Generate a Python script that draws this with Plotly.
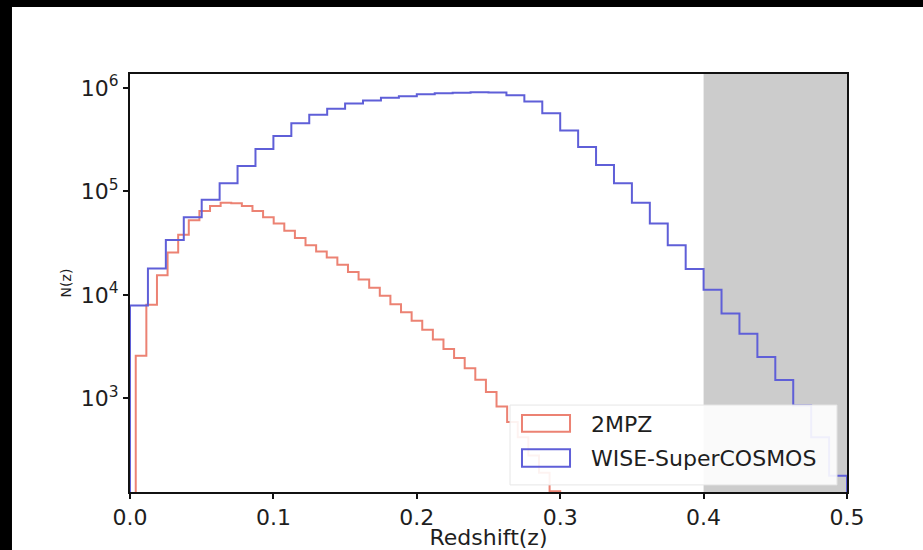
import numpy as np
import plotly.graph_objects as go

# ---------------- data ----------------
# WISE-SuperCOSMOS: 40 bins between z = 0.0 and 0.5
wise_z_range = (0.0, 0.5)
wise_counts = [7900, 18000, 33900, 56200, 83200, 120000, 176000, 257000, 343000, 457000,
               550000, 631000, 708000, 759000, 805000, 832000, 871000, 891000, 902000, 912000,
               905000, 851000, 741000, 569000, 389000, 269000, 180000, 120000, 77600, 49000,
               30200, 17800, 11200, 6600, 4200, 2500, 1500, 850, 420, 178]

# 2MPZ: 40 bins between z = 0.004 and 0.300
mpz_z_range = (0.004, 0.300)
mpz_counts = [2570, 8000, 15500, 25700, 38000, 52500, 64600, 72400, 77600, 77000,
              72400, 64600, 56200, 49000, 41700, 35500, 30200, 26300, 22900, 19500,
              16600, 14100, 11700, 9800, 8100, 6800, 5600, 4600, 3700, 3000,
              2450, 1950, 1510, 1150, 830, 590, 420, 280, 190, 126]

series_names = ["2MPZ", "WISE-SuperCOSMOS"]
x_ticks = [0.0, 0.1, 0.2, 0.3, 0.4, 0.5]
y_ticks = [1e3, 1e4, 1e5, 1e6]
y_tick_labels = ["10<sup>3</sup>", "10<sup>4</sup>", "10<sup>5</sup>", "10<sup>6</sup>"]
masked_range = (0.4, 0.5)

RED = "#ec8273"
BLUE = "#5f5fd8"
FONT = "DejaVu Sans"
TXT = "#1e1e1e"


def step_xy(zr, counts, floor=1.0):
    edges = np.linspace(zr[0], zr[1], len(counts) + 1)
    xs = [edges[0]] + list(edges[:-1]) + [edges[-1], edges[-1]]
    ys = [floor] + list(counts) + [counts[-1], floor]
    return xs, ys


fig = go.Figure()

# masked region
fig.add_shape(type="rect", xref="x", yref="paper", x0=masked_range[0], x1=masked_range[1],
              y0=0, y1=1, fillcolor="#cccccc", line=dict(width=0), layer="below")

for zr, counts, name, col in [(mpz_z_range, mpz_counts, series_names[0], RED),
                              (wise_z_range, wise_counts, series_names[1], BLUE)]:
    xs, ys = step_xy(zr, counts)
    fig.add_trace(go.Scatter(x=xs, y=ys, mode="lines", line=dict(color=col, width=2, shape="hv"),
                             name=name, showlegend=False, hoverinfo="skip"))

# legend (matplotlib-style box with outlined patches)
fig.add_shape(type="rect", xref="paper", yref="paper", x0=0.530, x1=0.986, y0=0.017, y1=0.208,
              fillcolor="rgba(255,255,255,0.9)", line=dict(color="#e6e6e6", width=1), layer="above")
for (y0, y1, ytxt), name, col in [((0.1443, 0.1842, 0.1603), series_names[0], RED),
                                  ((0.0605, 0.1022, 0.0813), series_names[1], BLUE)]:
    fig.add_shape(type="rect", xref="paper", yref="paper", x0=0.5467, x1=0.6137, y0=y0, y1=y1,
                  fillcolor="rgba(0,0,0,0)", line=dict(color=col, width=2), layer="above")
    fig.add_annotation(xref="paper", yref="paper", x=0.640, y=ytxt, text=name, showarrow=False,
                       xanchor="left", yanchor="middle", font=dict(family=FONT, size=22, color=TXT))

# black screen-capture borders
fig.add_shape(type="rect", xref="paper", yref="paper", x0=-0.25, x1=1.2, y0=1.16, y1=1.25,
              fillcolor="black", line=dict(width=0), layer="above")
fig.add_shape(type="rect", xref="paper", yref="paper", x0=-0.25, x1=-0.1646, y0=-0.2, y1=1.25,
              fillcolor="black", line=dict(width=0), layer="above")

fig.update_layout(
    width=923, height=550,
    margin=dict(l=130, r=76, t=74, b=58, autoexpand=False),
    paper_bgcolor="white", plot_bgcolor="white",
    font=dict(family=FONT, size=22, color=TXT),
    showlegend=False,
)
fig.update_xaxes(range=[0, 0.5], tickvals=x_ticks, tickformat=".1f",
                 showgrid=False, zeroline=False, showline=True, linecolor="#111", linewidth=2,
                 mirror=True, ticks="outside", ticklen=5, tickwidth=1.5, tickcolor="#111",
                 tickfont=dict(family=FONT, size=22, color=TXT),
                 title=dict(text="Redshift(z)", font=dict(family=FONT, size=22, color=TXT), standoff=4),
                 automargin=False)
fig.update_yaxes(type="log", range=[2.093, 6.1355], tickvals=y_ticks, ticktext=y_tick_labels,
                 showgrid=False, zeroline=False, showline=True, linecolor="#111", linewidth=2,
                 mirror=True, ticks="outside", ticklen=5, tickwidth=1.5, tickcolor="#111",
                 tickfont=dict(family=FONT, size=22, color=TXT),
                 title=dict(text="N(z)", font=dict(family=FONT, size=14, color=TXT), standoff=6),
                 automargin=False)

fig.write_html("out.html")
